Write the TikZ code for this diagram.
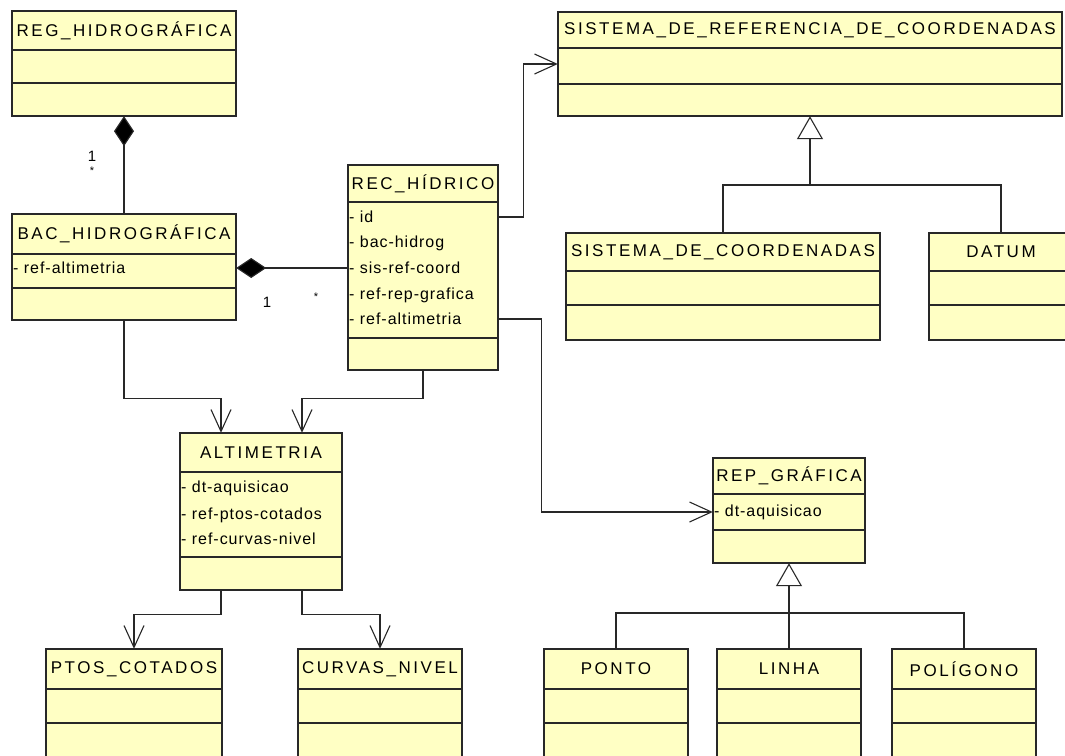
\documentclass[tikz,border=0pt]{standalone}
\usepackage{fontspec}
\setmainfont{Liberation Sans}
\newfontfamily\umlfont[LetterSpace=15]{Liberation Sans}
\newfontfamily\attrfont[LetterSpace=6]{Liberation Sans}
\usepackage{tikz}
\usetikzlibrary{calc}
\usetikzlibrary{arrows.meta,shapes}
\usetikzlibrary{fit,positioning}

\definecolor{classfill}{RGB}{255,255,196}
\definecolor{classedge}{RGB}{40,40,40}

\tikzset{
  classbox/.style={fill=classfill,draw=classedge,line width=1.3pt},
  classrule/.style={draw=classedge,line width=1.3pt},
  classname/.style={inner sep=0pt,font=\umlfont\fontsize{17}{20}\selectfont},
  attr/.style={anchor=west,inner sep=1pt,font=\attrfont\fontsize{16}{18}\selectfont},
  mult/.style={inner sep=0pt,font=\fontsize{15}{17}\selectfont},
  conn/.style={draw=classedge,line width=1.1pt},
  assoc/.style={conn,-{Straight Barb[length=22pt,width=20pt,line width=1.1pt]}},
  comp/.style={conn,-{Diamond[fill=black,length=30pt,width=20pt]}},
  gen/.style={conn,-{Triangle[open,fill=white,length=23pt,width=26pt,line width=1.1pt]}}
}

% name, left, top, right, head bottom, attr bottom, bottom, title
\newcommand{\umlclass}[8]{%
  \path[classbox] (#2,#3) rectangle (#4,#7);
  \draw[classrule] (#2,#5) -- (#4,#5) (#2,#6) -- (#4,#6);
  \node[inner sep=0pt,fit={(#2,#3) (#4,#7)}] (#1) {};
  \node[classname] (#1-name) at ($(#2,#3)!.5!(#4,#5)$) {#8};
}

\begin{document}
\begin{tikzpicture}[x=1pt,y=-1pt]
      \useasboundingbox[fill=white] (0,0) rectangle (1065,755);
      \clip (0,0) rectangle (1065,755);

      \umlclass{reg}{12}{11}{236}{50}{83}{116}{REG\_HIDROGRÁFICA}
      \umlclass{bac}{12}{214}{236}{254}{288}{320}{BAC\_HIDROGRÁFICA}
      \umlclass{rec}{348}{165}{498}{202}{338}{370}{REC\_HÍDRICO}
      \draw[classrule,line width=2.4pt] (348,202) -- (498,202);
      \umlclass{srefc}{558}{12}{1062}{48}{84}{116}{SISTEMA\_DE\_REFERENCIA\_DE\_COORDENADAS}
      \umlclass{scoord}{566}{233}{880}{271}{305}{340}{SISTEMA\_DE\_COORDENADAS}
      \umlclass{datum}{929}{233}{1073}{271}{305}{340}{DATUM}
      \umlclass{alt}{180}{433}{342}{472}{557}{590}{ALTIMETRIA}
      \umlclass{rep}{713}{458}{865}{494}{530}{563}{REP\_GRÁFICA}
      \umlclass{ptos}{46}{649}{222}{689}{723}{770}{PTOS\_COTADOS}
      \umlclass{curvas}{298}{649}{462}{689}{723}{770}{CURVAS\_NIVEL}
      \umlclass{ponto}{544}{649}{688}{689}{723}{770}{PONTO}
      \umlclass{linha}{717}{649}{861}{689}{723}{770}{LINHA}
      \umlclass{poligono}{892}{649}{1036}{689}{723}{770}{POLÍGONO}

      \node[attr] (bac-ralt) at (12,268) {- ref-altimetria};
      \node[attr] (rec-id) at (348,217) {- id};
      \node[attr] (rec-bac) at (348,243) {- bac-hidrog};
      \node[attr] (rec-sis) at (348,268) {- sis-ref-coord};
      \node[attr] (rec-rep) at (348,295) {- ref-rep-grafica};
      \node[attr] (rec-ralt) at (348,319) {- ref-altimetria};
      \node[attr] (alt-dt) at (180,488) {- dt-aquisicao};
      \node[attr] (alt-ptos) at (180,515) {- ref-ptos-cotados};
      \node[attr] (alt-curvas) at (180,539) {- ref-curvas-nivel};
      \node[attr] (rep-dt) at (713,512) {- dt-aquisicao};

      \draw[comp] (bac.north) -- (reg.south);
      \node[mult] (reg-one) at (92,156) {1};
      \node[mult,font=\fontsize{11}{12}\selectfont] (reg-many) at (92,171) {*};
      \draw[comp] (rec-sis -| rec.west) -- (rec-sis -| bac.east);
      \node[mult] (bac-one) at (267,302) {1};
      \node[mult,font=\fontsize{11}{12}\selectfont] (rec-many) at (316,297) {*};

      \draw[assoc] (rec-id -| rec.east) -- ++(25,0) |- (srefc.west);
      \draw[assoc] (rec-ralt -| rec.east) -- ++(43,0) |- (rep-dt -| rep.west);
      \draw[assoc] (bac.south) -- ++(0,78) -| ([xshift=-40pt]alt.north);
      \draw[assoc] (rec.south) -- ++(0,28) -| ([xshift=41pt]alt.north);
      \draw[assoc] ([xshift=-40pt]alt.south) -- ++(0,24) -| (ptos.north);
      \draw[assoc] ([xshift=41pt]alt.south) -- ++(0,24) -| (curvas.north);

      \coordinate (g-srefc) at (srefc.south |- 0,185);
      \draw[conn] (scoord.north) |- (g-srefc) -| (datum.north);
      \draw[gen] (g-srefc) -- (srefc.south);
      \coordinate (g-rep) at (rep.south |- 0,613);
      \draw[conn] (ponto.north) |- (g-rep) -| (poligono.north);
      \draw[conn] (linha.north) -- (g-rep);
      \draw[gen] (g-rep) -- (rep.south);
\end{tikzpicture}
\end{document}
